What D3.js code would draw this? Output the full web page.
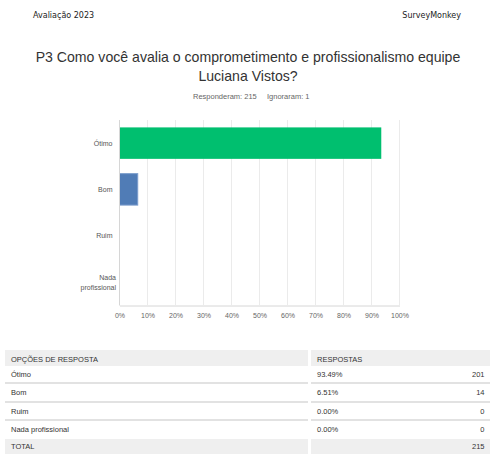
<!DOCTYPE html>
<html><head><meta charset="utf-8">
<script src="https://cdn.jsdelivr.net/npm/d3@7"></script>
<style>body{margin:0;background:#fff;}svg{display:block;}</style>
</head><body>
<script>
const categories = ["Ótimo", "Bom", "Ruim", "Nada profissional"];
const percents = [93.49, 6.51, 0.00, 0.00];
const counts = [201, 14, 0, 0];
const total = 215;
const skipped = 1;
const xTicks = [0,10,20,30,40,50,60,70,80,90,100];
const barColors = ["#00BF6F", "#507CB6", "#507CB6", "#507CB6"];

const W = 496, H = 464;
const svg = d3.select("body").append("svg").attr("width", W).attr("height", H);
const font = "'Liberation Sans', Arial, sans-serif";

svg.append("text").attr("x", 33).attr("y", 18).attr("font-family", "'DejaVu Sans', sans-serif")
  .attr("font-size", 8).attr("fill", "#222").text("Avaliação 2023");
svg.append("text").attr("x", 461).attr("y", 18).attr("text-anchor", "end").attr("font-family", "'DejaVu Sans', sans-serif")
  .attr("font-size", 8).attr("fill", "#222").text("SurveyMonkey");

const title = ["P3 Como você avalia o comprometimento e profissionalismo equipe", "Luciana Vistos?"];
title.forEach((t, i) => svg.append("text").attr("x", 248).attr("y", 62 + i * 18.5).attr("text-anchor", "middle")
  .attr("font-family", font).attr("font-size", 14.1).attr("fill", "#333").text(t));

svg.append("text").attr("x", 193).attr("y", 98.5).attr("font-family", font).attr("font-size", 7.5).attr("fill", "#666")
  .text("Responderam: " + total);
svg.append("text").attr("x", 267).attr("y", 98.5).attr("font-family", font).attr("font-size", 7.5).attr("fill", "#666")
  .text("Ignoraram: " + skipped);

const x = d3.scaleLinear().domain([0, 100]).range([119.5, 399.5]);
const y = d3.scaleBand().domain(categories).range([120, 305]).paddingInner(0.32).paddingOuter(0.16);

// gridlines
svg.append("g").selectAll("line").data(xTicks.slice(1)).join("line")
  .attr("x1", d => x(d)).attr("x2", d => x(d)).attr("y1", 120).attr("y2", 305)
  .attr("stroke", "#ebebeb").attr("stroke-width", 1);

// bars
svg.append("g").selectAll("rect").data(categories).join("rect")
  .attr("x", x(0)).attr("y", d => y(d))
  .attr("width", (d, i) => x(percents[i]) - x(0)).attr("height", y.bandwidth())
  .attr("fill", (d, i) => barColors[i])
  .attr("stroke", (d, i) => i === 1 ? "#7a9ccc" : "none").attr("stroke-width", (d, i) => i === 1 ? 1 : 0);

// axes lines
svg.append("line").attr("x1", x(0)).attr("x2", x(0)).attr("y1", 120).attr("y2", 305.5).attr("stroke", "#d6d6d6");
const xAxis = svg.append("g").attr("transform", "translate(0,305.5)")
  .call(d3.axisBottom(x).tickValues(xTicks).tickFormat(d => d + "%").tickSize(0).tickPadding(8));
xAxis.select(".domain").attr("stroke", "#d6d6d6");
xAxis.selectAll("text").attr("font-family", font).attr("font-size", 7).attr("fill", "#666");

// category labels
categories.forEach((c, i) => {
  const cy = y(c) + y.bandwidth() / 2;
  const g = svg.append("text").attr("text-anchor", "end").attr("font-family", font).attr("font-size", 7).attr("fill", "#555");
  if (c === "Nada profissional") {
    g.append("tspan").attr("x", 116).attr("y", cy - 2).text("Nada");
    g.append("tspan").attr("x", 116).attr("y", cy + 8).text("profissional");
  } else {
    g.attr("x", 112.5).attr("y", cy + 2.5).text(c);
  }
});

// table
const rowsY = [366, 383, 402, 420, 439];
const rowsH = [17, 19, 18, 19];
const leftX = 5, leftW = 303, rightX = 311, rightW = 179;
const tsize = 7.5;
svg.append("rect").attr("x", leftX).attr("y", 350).attr("width", leftW).attr("height", 16).attr("fill", "#efefef");
svg.append("rect").attr("x", rightX).attr("y", 350).attr("width", rightW).attr("height", 16).attr("fill", "#efefef");
svg.append("text").attr("x", 11).attr("y", 361.5).attr("font-family", font).attr("font-size", tsize).attr("fill", "#333").text("OPÇÕES DE RESPOSTA");
svg.append("text").attr("x", 317).attr("y", 361.5).attr("font-family", font).attr("font-size", tsize).attr("fill", "#333").text("RESPOSTAS");

categories.forEach((c, i) => {
  const top = rowsY[i], h = rowsH[i];
  const ty = top + h / 2 + 2.5;
  svg.append("text").attr("x", 11).attr("y", ty).attr("font-family", font).attr("font-size", tsize).attr("fill", "#333").text(c);
  svg.append("text").attr("x", 317).attr("y", ty).attr("font-family", font).attr("font-size", tsize).attr("fill", "#333").text(percents[i].toFixed(2) + "%");
  svg.append("text").attr("x", 484.5).attr("y", ty).attr("text-anchor", "end").attr("font-family", font).attr("font-size", tsize).attr("fill", "#333").text(counts[i]);
  if (i < categories.length - 1) {
    const ly = top + h;
    svg.append("line").attr("x1", leftX).attr("x2", leftX + leftW).attr("y1", ly).attr("y2", ly).attr("stroke", "#d9d9d9").attr("stroke-width", 1.5);
    svg.append("line").attr("x1", rightX).attr("x2", rightX + rightW).attr("y1", ly).attr("y2", ly).attr("stroke", "#d9d9d9").attr("stroke-width", 1.5);
  }
});

svg.append("rect").attr("x", leftX).attr("y", 439).attr("width", leftW).attr("height", 15).attr("fill", "#efefef");
svg.append("rect").attr("x", rightX).attr("y", 439).attr("width", rightW).attr("height", 15).attr("fill", "#efefef");
svg.append("text").attr("x", 11).attr("y", 449).attr("font-family", font).attr("font-size", tsize).attr("fill", "#333").text("TOTAL");
svg.append("text").attr("x", 484.5).attr("y", 449).attr("text-anchor", "end").attr("font-family", font).attr("font-size", tsize).attr("fill", "#333").text(total);
</script>
</body></html>
